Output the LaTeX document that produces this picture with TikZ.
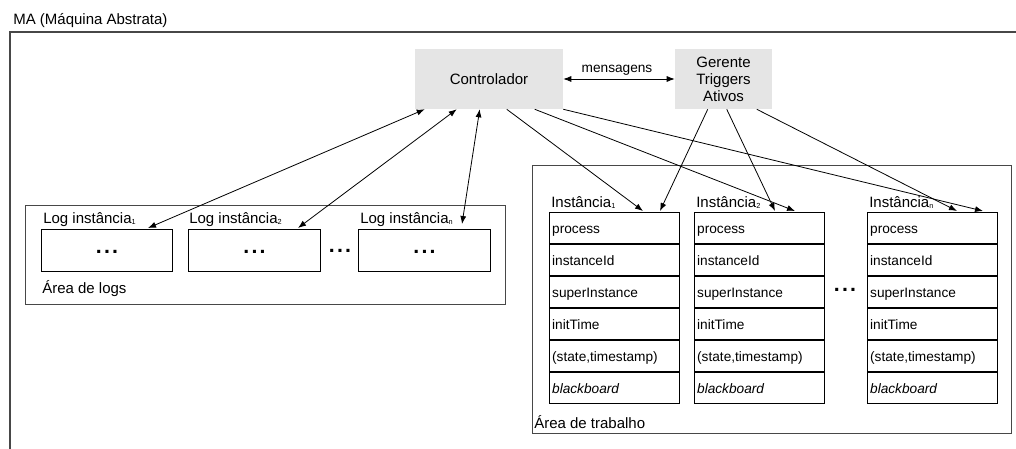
\documentclass[tikz,border=0pt]{standalone}
\usepackage{fontspec}
\setmainfont{Liberation Sans}
\usetikzlibrary{arrows.meta,calc}
\newcommand\pxu{0.75pt}
\newcommand\sbs[1]{\raisebox{-1.2pt}{\fontsize{5.5}{6}\selectfont #1}}
\newcommand\tdots{.\kern1.6pt.\kern1.6pt.}
\begin{document}
\begin{tikzpicture}[x=0.75pt,y=-0.75pt,
  big/.style={font=\fontsize{11.25}{12.75}\selectfont},
  small/.style={font=\fontsize{10.25}{12}\selectfont},
  lbl/.style={big,anchor=base west,inner sep=0pt},
  graybox/.style={fill=black!10,draw=none,big,align=center,inner sep=0pt},
  area/.style={draw=black!72,line width=1pt},
  logbox/.style={draw=black,line width=0.75pt,minimum height=42*\pxu,inner sep=0pt,anchor=north west},
  row/.style={draw=black,line width=0.75pt,small,anchor=north west,inner xsep=2pt,inner ysep=0pt,
    text width=93.5pt,minimum height=31*\pxu,text height=8.5pt,text depth=1pt,align=left},
  dots/.style={font=\fontsize{16}{16}\selectfont\bfseries,inner sep=0pt},
  arr/.style={-{Latex[length=6pt,width=4.5pt]},line width=0.6pt},
  darr/.style={{Latex[length=6pt,width=4.5pt]}-{Latex[length=6pt,width=4.5pt]},line width=0.6pt},
]
\useasboundingbox (0,0) rectangle (1016,449);

% outer frame
\node[lbl] (title) at (13,25) {MA (Máquina Abstrata)};
\coordinate (otr) at (1016,32);
\coordinate (otl) at (10,32);
\coordinate (obl) at (10,449);
\draw[draw=black!72,line width=1.2pt] (otr) -- (otl) -- (obl);

% top boxes
\node[graybox,minimum width=148*\pxu,minimum height=60*\pxu] (ctrl) at (489,79) {Controlador};
\node[graybox,minimum width=97*\pxu,minimum height=60*\pxu] (ger) at (723.5,79) {Gerente\\Triggers\\Ativos};
\draw[darr] (ctrl.east) -- (ger.west);
\node[small,anchor=base,inner sep=0pt] (msg) at (617,73) {mensagens};

% area de logs
\node[area,minimum width=480*\pxu,minimum height=99*\pxu,anchor=north west,inner sep=0pt] (logarea) at (25,205) {};
\node[lbl] (logareal) at (42,293) {Área de logs};
\node[logbox,minimum width=131*\pxu] (log1) at (41,229) {};
\node[logbox,minimum width=132*\pxu] (log2) at (188,229) {};
\node[logbox,minimum width=132*\pxu] (log3) at (358,229) {};
\node[dots] (d1) at ($(log1.center)+(0,1)$) {\tdots};
\node[dots] (d2) at ($(log2.center)+(0,1)$) {\tdots};
\node[dots] (d3) at ($(log3.center)+(0,1)$) {\tdots};
\node[dots] (d4) at (340,251) {\tdots};
\node[lbl] (log1l) at (43,223) {Log instância\sbs{1}};
\node[lbl] (log2l) at (189,223) {Log instância\sbs{2}};
\node[lbl] (log3l) at (360,223) {Log instância\sbs{n}};

% area de trabalho
\node[area,minimum width=479*\pxu,minimum height=268*\pxu,anchor=north west,inner sep=0pt] (work) at (532,165) {};
\node[lbl] (workl) at (534,428) {Área de trabalho};

\foreach \n/\x/\s in {1/549/1,2/694/2,3/867/n}{
  \node[lbl] (i\n l) at (\x+2,207) {Instância\sbs{\s}};
  \node[row] (i\n a) at (\x,212) {process};
  \node[row] (i\n b) at (i\n a.south west) {instanceId};
  \node[row] (i\n c) at (i\n b.south west) {superInstance};
  \node[row] (i\n d) at (i\n c.south west) {initTime};
  \node[row] (i\n e) at (i\n d.south west) {(state,timestamp)};
  \node[row] (i\n f) at (i\n e.south west) {\itshape blackboard};
}
\node[dots] (d5) at (845,290) {\tdots};

% controlador -> logs
\draw[darr] ($(log1.north west)+(107,-1)$) -- ($(ctrl.south west)+(10,0)$);
\draw[darr] ($(log2.north west)+(110,-1)$) -- ($(ctrl.south west)+(42,0)$);
\draw[darr] ($(log3.north west)+(104,-5)$) -- ($(ctrl.south west)+(65,0)$);

% controlador -> instancias
\draw[arr] ($(ctrl.south west)+(92,0)$) -- ($(i1a.north west)+(94,-1)$);
\draw[arr] ($(ctrl.south west)+(120,0)$) -- ($(i2a.north west)+(101,-1)$);
\draw[arr] (ctrl.south east) -- ($(i3a.north west)+(116,-1)$);

% gerente -> instancias
\draw[arr] ($(ger.south west)+(33,0)$) -- ($(i1a.north west)+(111,-1)$);
\draw[arr] ($(ger.south west)+(52,0)$) -- ($(i2a.north west)+(81,-1)$);
\draw[arr] ($(ger.south west)+(82,0)$) -- ($(i3a.north west)+(90,-1)$);
\end{tikzpicture}
\end{document}
